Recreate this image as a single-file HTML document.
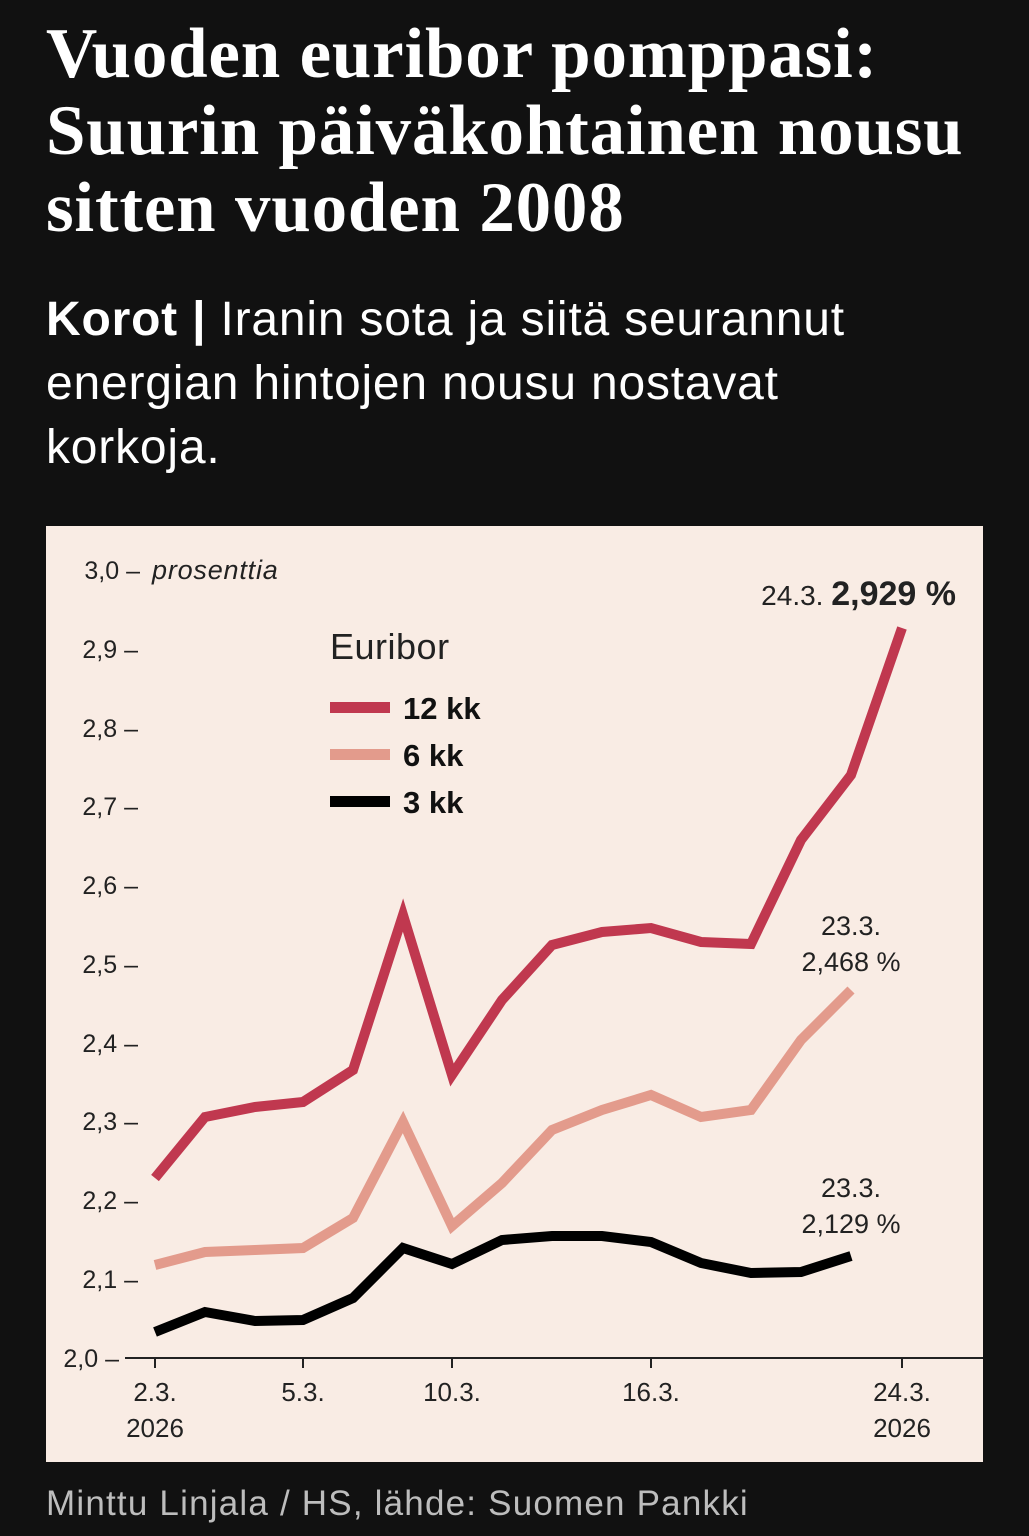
<!DOCTYPE html>
<html><head><meta charset="utf-8"><style>
html,body{margin:0;padding:0;background:#111;}
body{width:1029px;height:1536px;position:relative;overflow:hidden;font-family:"Liberation Sans","DejaVu Sans",sans-serif;color:#fff;}
h1{position:absolute;left:46px;top:16px;margin:0;font-family:"Liberation Serif","DejaVu Serif",serif;font-weight:bold;font-size:71px;line-height:77px;letter-spacing:0.8px;white-space:nowrap;}
.sub{position:absolute;left:46px;top:288px;font-size:48px;line-height:64px;margin:0;letter-spacing:0.8px;white-space:nowrap;}
.src{position:absolute;left:46px;top:1484px;font-size:35px;color:#bdbdbd;letter-spacing:1.2px;white-space:nowrap;}
svg{position:absolute;left:0;top:0;}
</style></head><body>
<h1>Vuoden euribor pomppasi:<br>Suurin päiväkohtainen nousu<br>sitten vuoden 2008</h1>
<p class="sub"><b>Korot |</b> Iranin sota ja siitä seurannut<br>energian hintojen nousu nostavat<br>korkoja.</p>
<svg width="1029" height="1536" font-family="Liberation Sans, DejaVu Sans, sans-serif">
<rect x="46" y="526" width="937" height="936" fill="#f9ece4"/>
<g font-size="25" fill="#222" text-anchor="end">
<text x="140" y="579">3,0 –</text><text x="138" y="658">2,9 –</text><text x="138" y="737">2,8 –</text>
<text x="138" y="815">2,7 –</text><text x="138" y="894">2,6 –</text><text x="138" y="973">2,5 –</text>
<text x="138" y="1052">2,4 –</text><text x="138" y="1130">2,3 –</text><text x="138" y="1209">2,2 –</text>
<text x="138" y="1288">2,1 –</text><text x="119" y="1367">2,0 –</text>
</g>
<text x="152" y="579" font-size="27" font-style="italic" fill="#222" letter-spacing="0.8">prosenttia</text>
<line x1="125" y1="1358" x2="983" y2="1358" stroke="#222" stroke-width="2"/>
<g stroke="#222" stroke-width="2"><line x1="155" y1="1358" x2="155" y2="1368"/><line x1="303" y1="1358" x2="303" y2="1368"/><line x1="452" y1="1358" x2="452" y2="1368"/><line x1="651" y1="1358" x2="651" y2="1368"/><line x1="902" y1="1358" x2="902" y2="1368"/></g>
<g font-size="26" fill="#222" text-anchor="middle">
<text x="155" y="1401">2.3.</text><text x="155" y="1437">2026</text>
<text x="303" y="1401">5.3.</text><text x="452" y="1401">10.3.</text><text x="651" y="1401">16.3.</text>
<text x="902" y="1401">24.3.</text><text x="902" y="1437">2026</text>
</g>
<g fill="none" stroke-width="10" stroke-linejoin="miter">
<polyline stroke="#c0384f" points="155,1178 205,1117 255,1107 303,1102 353,1070 403,915 452,1075 502,1000 552,945 602,932 651,928 701,942 751,944 801,840 851,775 902,628"/>
<polyline stroke="#e39b8c" points="155,1265 205,1252 255,1250 303,1248 353,1218 403,1122 452,1226 502,1183 552,1130 602,1110 651,1095 701,1117 751,1110 801,1040 851,990"/>
<polyline stroke="#000" points="155,1332 205,1312 255,1321 303,1320 353,1298 403,1248 452,1264 502,1240 552,1236 602,1236 651,1242 701,1263 751,1273 801,1272 851,1256"/>
</g>
<text x="330" y="659" font-size="36" fill="#222" letter-spacing="0.5">Euribor</text>
<rect x="330" y="702" width="60" height="11" fill="#c0384f"/>
<rect x="330" y="749" width="60" height="11" fill="#e39b8c"/>
<rect x="330" y="796" width="60" height="11" fill="#000"/>
<g font-size="31" font-weight="bold" fill="#111"><text x="403" y="719">12 kk</text><text x="403" y="766">6 kk</text><text x="403" y="813">3 kk</text></g>
<text x="956" y="605" font-size="28" fill="#222" text-anchor="end">24.3. <tspan font-weight="bold" font-size="34">2,929 %</tspan></text>
<g font-size="27" fill="#222" text-anchor="middle">
<text x="851" y="935">23.3.</text><text x="851" y="971">2,468 %</text>
<text x="851" y="1197">23.3.</text><text x="851" y="1233">2,129 %</text>
</g>
</svg>
<div class="src">Minttu Linjala / HS, lähde: Suomen Pankki</div>
</body></html>
